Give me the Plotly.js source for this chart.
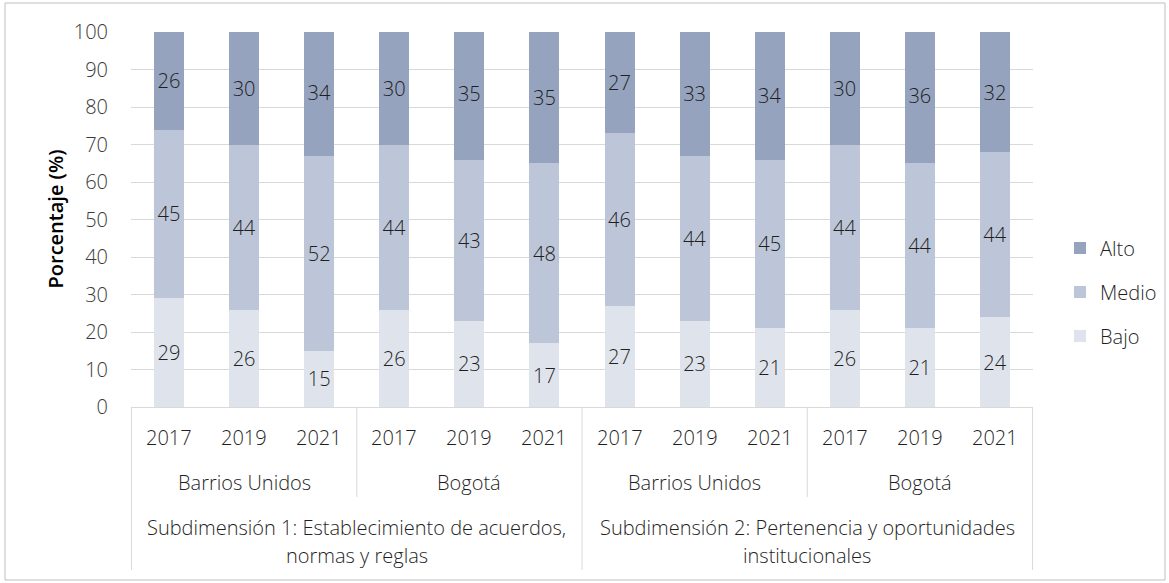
<!DOCTYPE html>
<html>
<head>
<meta charset="utf-8">
<script src="https://cdn.plot.ly/plotly-3.0.1.min.js"></script>
<style>html,body{margin:0;padding:0;background:#fff;}#chart{width:1169px;height:583px;}</style>
</head>
<body>
<div id="chart"></div>
<script>
const subdims = ['Subdimensión 1: Establecimiento de acuerdos,', 'Subdimensión 2: Pertenencia y oportunidades'];
const subdims2 = ['normas y reglas', 'institucionales'];
const places = ['Barrios Unidos', 'Bogotá'];
const years = ['2017', '2019', '2021'];
const bajo  = [29, 26, 15, 26, 23, 17, 27, 23, 21, 26, 21, 24];
const medio = [45, 44, 52, 44, 43, 48, 46, 44, 45, 44, 44, 44];
const alto  = [26, 30, 34, 30, 35, 35, 27, 33, 34, 30, 36, 32];

const keys = [], yearOf = [];
subdims.forEach((s, si) => places.forEach((p, pi) => years.forEach(y => {
  keys.push(si + '|' + pi + '|' + y); yearOf.push(y);
})));

const FONT = 'Open Sans, Noto Sans, sans-serif';
const TXT = '#1f1f1f';
const WT = 300;
const FS = 20;
function tr(name, vals, color, rank) {
  return {
    type: 'bar', name: name, x: keys, y: vals, legendgroup: name, legendrank: rank,
    marker: {color: color, line: {width: 0}},
    text: vals.map(String), textposition: 'inside', insidetextanchor: 'middle',
    textangle: 0, textfont: {family: FONT, size: FS, color: TXT, weight: WT},
    hoverinfo: 'skip'
  };
}
const data = [tr('Bajo', bajo, '#DFE4EC', 3), tr('Medio', medio, '#BDC6D8', 2), tr('Alto', alto, '#95A3BE', 1)];

const W = 902, H = 375, L = 131, T = 32;
const px = v => (v - L) / W;
const py = v => (T + H - v) / H;
const F = {family: FONT, size: FS, color: TXT, weight: WT};

const annotations = [];
keys.forEach((k, i) => annotations.push({x: k, xref: 'x', y: py(437), yref: 'paper', text: yearOf[i],
  showarrow: false, font: F, xanchor: 'center', yanchor: 'middle'}));
subdims.forEach((s, si) => {
  places.forEach((p, pi) => annotations.push({x: si * 6 + pi * 3 + 1, xref: 'x', y: py(482), yref: 'paper', text: p,
    showarrow: false, font: F, xanchor: 'center', yanchor: 'middle'}));
  annotations.push({x: si * 6 + 2.5, xref: 'x', y: py(527), yref: 'paper', text: s,
    showarrow: false, font: F, xanchor: 'center', yanchor: 'middle'});
  annotations.push({x: si * 6 + 2.5, xref: 'x', y: py(555), yref: 'paper', text: subdims2[si],
    showarrow: false, font: F, xanchor: 'center', yanchor: 'middle'});
});
annotations.push({x: px(55), xref: 'paper', y: 0.5, yref: 'paper', text: 'Porcentaje (%)', textangle: -90,
  showarrow: false, font: {family: FONT, size: FS, color: '#000', weight: 600}, xanchor: 'center', yanchor: 'middle'});

const LC = '#d9d9d9';
const shapes = [];
[-0.5, 5.5, 11.5].forEach(b => shapes.push({type: 'line', xref: 'x', yref: 'paper', x0: b, x1: b, y0: 0, y1: py(570), line: {color: LC, width: 1}}));
[2.5, 8.5].forEach(b => shapes.push({type: 'line', xref: 'x', yref: 'paper', x0: b, x1: b, y0: 0, y1: py(497), line: {color: LC, width: 1}}));
shapes.push({type: 'rect', xref: 'paper', yref: 'paper', x0: px(5), x1: px(1165), y0: py(580), y1: py(3), line: {color: '#bfbfbf', width: 1}, layer: 'below'});

const layout = {
  width: 1169, height: 583,
  margin: {l: L, r: 1169 - L - W, t: T, b: 583 - T - H, autoexpand: false},
  paper_bgcolor: '#fff', plot_bgcolor: '#fff',
  barmode: 'stack', bargap: 0.6,
  showlegend: true,
  legend: {xref: 'container', yref: 'container', x: 1060 / 1169, y: 1 - 292 / 583, xanchor: 'left', yanchor: 'middle',
    traceorder: 'grouped', tracegroupgap: 15,
    font: F, bgcolor: 'rgba(0,0,0,0)'},
  xaxis: {type: 'category', showticklabels: false, ticks: '', showgrid: false, showline: true, linecolor: LC, linewidth: 1, zeroline: false, fixedrange: true},
  yaxis: {range: [0, 100], dtick: 10, tick0: 0, showgrid: true, gridcolor: LC, gridwidth: 1, zeroline: false, showline: false,
    ticks: '', ticklabelstandoff: 22, tickfont: {family: FONT, size: FS, color: '#3a3a3a', weight: WT}, fixedrange: true},
  annotations: annotations, shapes: shapes,
  font: {family: FONT, color: TXT}
};
Plotly.newPlot('chart', data, layout, {staticPlot: true, displayModeBar: false});
</script>
</body>
</html>
